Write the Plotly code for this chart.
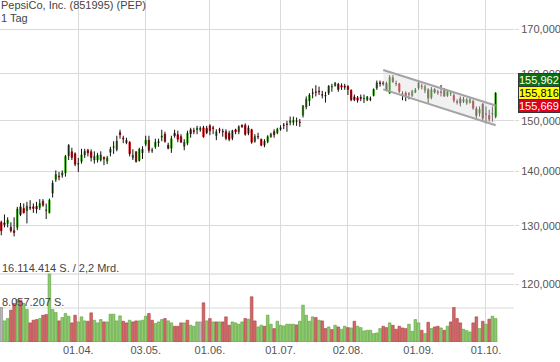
import math
import pandas as pd
import plotly.graph_objects as go

# ---------------- data ----------------
holidays = ["2021-04-02", "2021-05-31", "2021-07-05", "2021-09-06"]
trading_days = [d.strftime("%Y-%m-%d") for d in pd.bdate_range("2021-02-26", "2021-10-06")
                if d.strftime("%Y-%m-%d") not in holidays]

opens = [130.6, 130.5, 130.4, 129.7, 129.1, 129.7, 133.4, 133.1, 132.7, 133.3,
         133.4, 133.5, 133.3, 134.4, 132.7, 132.3, 135.9, 138.5, 139.1, 139.3,
         139.7, 143.0, 143.8, 143.4, 141.4, 141.9, 143.2, 144.1, 143.8, 142.2,
         142.2, 142.2, 142.7, 142.0, 143.7, 144.7, 144.3, 147.6, 146.5, 145.6,
         145.7, 142.7, 143.8, 142.1, 143.6, 145.3, 146.1, 144.0, 144.8, 145.6,
         146.7, 147.3, 145.1, 144.5, 147.5, 147.2, 146.8, 144.9, 145.5, 148.2,
         148.0, 148.2, 148.2, 148.6, 148.5, 149.0, 148.55, 147.0, 148.2, 147.9,
         147.8, 147.5, 146.5, 148.2, 147.8, 149.1, 149.1, 147.5, 148.2, 145.9,
         146.85, 146.3, 145.1, 145.8, 146.8, 147.8, 147.6, 148.3, 149.15, 149.35,
         149.7, 149.7, 149.9, 149.75, 151.2, 152.9, 154.2, 155.85, 156.05, 156.2,
         155.45, 155.3, 155.8, 157.15, 157.4, 157.7, 157.4, 157.3, 157.2, 156.4,
         155.0, 154.8, 154.9, 154.6, 154.4, 154.6, 155.3, 156.9, 158.0, 158.0,
         157.9, 155.8, 159.1, 157.9, 157.8, 155.65, 155.8, 155.65, 155.3, 156.0,
         156.9, 157.25, 156.4, 156.5, 154.9, 156.6, 156.05, 156.05, 156.5, 155.3,
         155.75, 155.3, 154.0, 154.6, 154.05, 153.7, 153.85, 154.05, 152.5, 151.6,
         153.5, 151.45, 151.1, 151.5, 150.9]
highs = [130.9, 132.0, 131.5, 130.6, 131.5, 133.4, 134.1, 134.0, 134.3, 134.6,
         134.0, 134.3, 134.8, 134.8, 134.0, 134.9, 138.3, 140.2, 139.9, 140.2,
         143.2, 145.3, 144.6, 143.7, 142.6, 144.4, 144.4, 144.4, 144.3, 143.9,
         143.6, 143.9, 142.9, 143.0, 144.8, 145.9, 147.0, 148.2, 147.0, 146.6,
         145.9, 144.3, 143.9, 144.6, 144.9, 147.0, 147.0, 144.6, 146.4, 146.4,
         148.2, 147.8, 145.6, 147.0, 148.2, 148.0, 147.3, 146.3, 148.0, 148.6,
         148.6, 149.0, 148.9, 149.0, 149.0, 149.3, 149.0, 148.3, 148.6, 148.4,
         148.3, 148.0, 148.2, 148.4, 149.1, 149.3, 149.5, 149.1, 148.4, 147.3,
         147.6, 146.4, 146.3, 147.1, 147.6, 148.3, 148.6, 149.1, 149.6, 150.0,
         150.9, 150.9, 150.7, 150.4, 153.3, 155.1, 155.8, 156.8, 157.5, 157.2,
         156.3, 156.1, 157.5, 157.8, 158.2, 158.0, 157.9, 157.8, 157.5, 156.6,
         155.5, 155.2, 155.5, 155.5, 155.2, 155.1, 156.8, 158.5, 158.5, 158.4,
         158.3, 159.7, 159.7, 158.5, 158.0, 156.2, 156.2, 156.0, 156.5, 156.9,
         158.6, 157.8, 157.6, 156.85, 157.1, 156.85, 156.5, 157.55, 156.85, 156.5,
         156.15, 155.8, 154.5, 155.1, 155.0, 154.75, 154.75, 154.4, 153.0, 153.0,
         153.7, 153.0, 152.3, 153.0, 156.0]
lows = [128.3, 129.7, 129.7, 128.8, 128.1, 129.2, 131.7, 132.2, 130.4, 132.8,
        132.3, 132.2, 132.8, 133.4, 131.2, 132.2, 135.1, 138.0, 138.3, 138.8,
        139.0, 142.2, 142.2, 141.0, 139.9, 141.5, 142.6, 142.9, 141.9, 141.5,
        141.7, 141.9, 141.2, 141.4, 142.9, 143.4, 143.9, 146.4, 145.5, 145.3,
        142.9, 142.2, 141.7, 141.9, 142.4, 144.9, 143.6, 143.6, 144.4, 144.8,
        145.9, 145.6, 144.3, 143.6, 146.6, 145.7, 145.6, 144.1, 145.1, 146.6,
        147.3, 147.3, 147.8, 146.6, 147.3, 147.1, 147.3, 146.1, 147.5, 146.8,
        146.1, 145.9, 146.1, 147.3, 147.3, 148.6, 147.0, 147.1, 145.4, 145.6,
        146.3, 144.9, 144.7, 145.5, 146.6, 146.6, 147.3, 148.0, 148.3, 147.8,
        149.1, 149.1, 149.0, 148.8, 150.7, 152.4, 153.1, 154.7, 155.1, 155.4,
        154.7, 153.8, 155.4, 156.1, 157.2, 156.1, 156.5, 156.5, 155.4, 154.1,
        154.1, 153.8, 154.1, 153.7, 154.1, 154.1, 155.1, 156.5, 157.2, 157.4,
        156.2, 155.7, 158.0, 157.3, 155.8, 154.3, 154.1, 154.5, 155.0, 155.8,
        156.5, 156.6, 155.8, 153.7, 154.5, 155.7, 155.45, 155.1, 155.0, 155.0,
        155.2, 153.8, 153.4, 153.0, 153.7, 153.35, 153.6, 152.3, 150.2, 150.9,
        149.85, 149.5, 149.85, 149.85, 150.55]
closes = [129.1, 130.2, 131.0, 129.1, 128.8, 133.0, 132.0, 132.3, 133.5, 133.2,
          133.1, 133.0, 134.0, 133.7, 132.8, 134.6, 137.8, 139.4, 139.0, 139.7,
          142.9, 145.1, 142.7, 141.4, 141.5, 143.2, 143.9, 143.6, 142.7, 142.9,
          143.1, 143.2, 142.4, 142.6, 144.3, 144.8, 145.9, 147.2, 146.4, 146.1,
          143.4, 143.1, 141.9, 144.3, 144.3, 146.1, 144.1, 144.1, 145.7, 145.8,
          146.9, 145.9, 144.5, 146.4, 147.0, 146.3, 145.7, 145.7, 147.5, 147.4,
          147.9, 148.5, 148.5, 146.8, 147.6, 148.0, 148.5, 147.8, 148.1, 147.8,
          146.5, 146.3, 148.0, 147.8, 148.8, 148.8, 147.3, 148.6, 145.7, 146.8,
          146.8, 145.1, 145.9, 146.8, 147.3, 147.2, 148.3, 148.6, 149.1, 149.3,
          150.0, 150.1, 150.0, 149.7, 153.1, 154.5, 155.4, 155.8, 156.0, 156.1,
          155.4, 155.25, 157.3, 157.2, 157.9, 156.6, 157.1, 157.1, 156.6, 154.4,
          154.4, 154.3, 154.7, 154.7, 155.0, 154.5, 156.6, 158.0, 157.9, 157.8,
          156.4, 159.2, 158.3, 157.85, 156.2, 155.6, 155.1, 155.6, 156.2, 156.5,
          158.0, 157.2, 157.2, 154.75, 156.6, 156.0, 156.0, 156.0, 155.2, 156.15,
          155.8, 154.3, 153.9, 153.7, 154.5, 154.4, 154.4, 152.65, 151.1, 152.4,
          150.55, 151.4, 150.35, 151.45, 155.816]

volume_mio = [8.18, 5.00, 5.56, 7.54, 9.13, 10.08, 9.92, 9.13, 7.70, 4.53,
              5.16, 5.32, 5.56, 6.35, 6.51, 16.114414, 7.70, 6.99, 5.00, 5.80,
              6.75, 6.11, 4.53, 6.35, 4.76, 5.96, 5.00, 4.92, 6.91, 5.16,
              4.53, 5.32, 4.76, 4.76, 6.59, 6.59, 5.00, 6.19, 4.92, 4.53,
              5.16, 4.76, 5.00, 5.00, 5.16, 6.11, 6.75, 5.16, 4.37, 4.76,
              5.32, 5.56, 5.00, 4.53, 3.73, 3.73, 4.53, 4.53, 5.16, 3.97,
              3.73, 4.76, 4.76, 9.29, 5.00, 5.56, 4.76, 4.76, 4.76, 4.76,
              5.96, 3.97, 4.76, 4.53, 4.21, 4.76, 5.56, 5.40, 10.72, 5.00,
              3.57, 3.97, 3.73, 6.35, 4.21, 3.18, 4.92, 3.97, 3.81, 4.21,
              4.21, 4.21, 4.05, 4.92, 8.73, 6.35, 4.92, 5.96, 5.80, 5.16,
              5.00, 3.18, 3.57, 2.94, 3.97, 3.57, 3.02, 3.73, 3.41, 3.33,
              4.92, 3.73, 3.41, 2.62, 2.78, 2.78, 1.99, 2.14, 3.18, 3.73,
              3.41, 4.53, 3.97, 3.02, 3.73, 3.33, 3.18, 4.21, 2.54, 5.32,
              4.53, 2.78, 1.99, 4.68, 3.18, 3.57, 3.73, 3.33, 2.78, 3.73,
              4.76, 8.18, 5.56, 4.53, 3.02, 2.70, 2.38, 4.53, 5.96, 3.18,
              4.92, 4.21, 5.40, 6.11, 5.56]
volume_dir = list("nuudduduud" + "ddudduuudu" + "uudduuuddu" + "uuduuuuudd"
                  + "udduuudduu" + "uduudddudu" + "uundududud" + "dduuuududd"
                  + "uuduuduuuu" + "uuduuuuudu" + "ddududuudu" + "duuuuuuuud"
                  + "duddddduuu" + "udududdudu" + "dddduuuddu" + "duduu")

volume_max = 16114414
volume_half = 8057207

tick_dates = ["2021-04-01", "2021-05-03", "2021-06-01", "2021-07-01",
              "2021-08-02", "2021-09-01", "2021-10-01"]
tick_labels = ["01.04.", "03.05.", "01.06.", "01.07.", "02.08.", "01.09.", "01.10."]
price_ticks = [120, 130, 140, 150, 160, 170]
price_tick_labels = ["120,000", "130,000", "140,000", "150,000", "160,000", "170,000"]

channel_dates = ["2021-08-17", "2021-10-06"]
channel_upper = [160.8, 153.2]
channel_lower = [156.6, 149.1]

quote_ask, quote_last, quote_bid = 155.962, 155.816, 155.669

# ---------------- figure ----------------
GREEN = "#3fb21c"
RED = "#e0101a"
GRID = "#dadada"
FONT = "Arial, Liberation Sans, sans-serif"

fig = go.Figure()

# volume bars (secondary axis)
vfill = {"u": "#8ccc6c", "d": "#d46868", "n": "#b8b8b8"}
vedge = {"u": "#5d9e3e", "d": "#a84040", "n": "#8a8a8a"}
fig.add_trace(go.Bar(
    x=trading_days, y=[v * 1e6 for v in volume_mio], yaxis="y2",
    marker=dict(color=[vfill[d] for d in volume_dir],
                line=dict(color=[vedge[d] for d in volume_dir], width=0.6)),
    hoverinfo="skip", showlegend=False))

# trend channel
fig.add_trace(go.Scatter(
    x=[channel_dates[0], channel_dates[1], channel_dates[1], channel_dates[0], channel_dates[0]],
    y=[channel_upper[0], channel_upper[1], channel_lower[1], channel_lower[0], channel_upper[0]],
    fill="toself", fillcolor="rgba(225,225,225,0.45)", line=dict(width=0),
    mode="lines", hoverinfo="skip", showlegend=False))
for ys in (channel_upper, channel_lower):
    fig.add_trace(go.Scatter(x=channel_dates, y=ys, mode="lines",
                             line=dict(color="#a4a4a4", width=2),
                             hoverinfo="skip", showlegend=False))

# wicks
fig.add_trace(go.Ohlc(
    x=trading_days, open=opens, high=highs, low=lows, close=closes,
    increasing=dict(line=dict(color="#111111", width=1)),
    decreasing=dict(line=dict(color="#111111", width=1)),
    tickwidth=0, hoverinfo="skip", showlegend=False))

# bodies
body_hi = [max(o, c) for o, c in zip(opens, closes)]
body_lo = [min(o, c) for o, c in zip(opens, closes)]
fig.add_trace(go.Candlestick(
    x=trading_days, open=opens, high=body_hi, low=body_lo, close=closes,
    increasing=dict(line=dict(color=GREEN, width=1), fillcolor=GREEN),
    decreasing=dict(line=dict(color=RED, width=1), fillcolor=RED),
    whiskerwidth=0, hoverinfo="skip", showlegend=False))

ylo = math.log10(170) - (342 - 29.3) / 1685.49
yhi = math.log10(170) + 29.3 / 1685.49

fig.update_layout(
    width=560, height=362,
    margin=dict(l=0, r=46, t=0, b=20, autoexpand=False),
    paper_bgcolor="white", plot_bgcolor="white",
    showlegend=False, boxgap=0.42, bargap=0.18,
    font=dict(family=FONT, size=11, color="#555555"),
    xaxis=dict(type="category", range=[-0.39, 159.73],
               tickvals=tick_dates, ticktext=tick_labels,
               showgrid=True, gridcolor=GRID, gridwidth=1,
               ticks="", showline=False, zeroline=False, automargin=False,
               rangeslider=dict(visible=False),
               tickfont=dict(size=11, color="#555555")),
    yaxis=dict(type="log", side="right", range=[ylo, yhi],
               tickvals=price_ticks, ticktext=price_tick_labels,
               showgrid=True, gridcolor=GRID, gridwidth=1,
               ticks="outside", ticklen=4, tickcolor=GRID, ticklabelstandoff=0,
               showline=False, zeroline=False, automargin=False,
               tickfont=dict(size=11, color="#555555")),
    yaxis2=dict(overlaying="y", range=[0, 81.05e6], visible=False),
)

# volume reference lines and labels
fig.add_shape(type="line", xref="paper", x0=0, x1=1, yref="y2",
              y0=volume_max, y1=volume_max, line=dict(color="#e8e8e8", width=2), layer="below")
fig.add_shape(type="line", xref="paper", x0=0, x1=1, yref="y2",
              y0=volume_half, y1=volume_half, line=dict(color=GRID, width=1), layer="below")
fig.add_annotation(xref="paper", x=0, xanchor="left", yref="y2", y=volume_max, yanchor="bottom",
                   text="16.114.414 S. / 2,2 Mrd.", showarrow=False, yshift=-2,
                   font=dict(size=11, color="#444444"))
fig.add_annotation(xref="paper", x=0, xanchor="left", yref="y2", y=volume_half, yanchor="bottom",
                   text="8.057.207 S.", showarrow=False, yshift=-2,
                   font=dict(size=11, color="#444444"))

# title
fig.add_annotation(xref="paper", x=0, xanchor="left", yref="paper", y=1, yanchor="top",
                   text="PepsiCo, Inc. (851995) (PEP)", showarrow=False, yshift=2, borderpad=0,
                   font=dict(size=11, color="#444444"))
fig.add_annotation(xref="paper", x=0, xanchor="left", yref="paper", y=1, yanchor="top",
                   text="1 Tag", showarrow=False, yshift=-11, borderpad=0,
                   font=dict(size=11, color="#444444"))

# quote tags
def fmt(v):
    return f"{v:.3f}".replace(".", ",")

for val, bg, fg, shift in [(quote_ask, "#0d6e12", "white", 12),
                           (quote_last, "#ffff00", "black", 0),
                           (quote_bid, "#e0001b", "white", -12)]:
    fig.add_annotation(xref="paper", x=1, xanchor="left", xshift=4,
                       yref="y", y=math.log10(val), yanchor="middle", yshift=shift,
                       text=fmt(val), showarrow=False, bgcolor=bg, bordercolor="#333333",
                       borderwidth=1, borderpad=0, font=dict(size=11, color=fg))

fig.write_html("out.html", config={"displayModeBar": False},
               post_script="document.body.style.margin='0';document.body.style.padding='0';")
